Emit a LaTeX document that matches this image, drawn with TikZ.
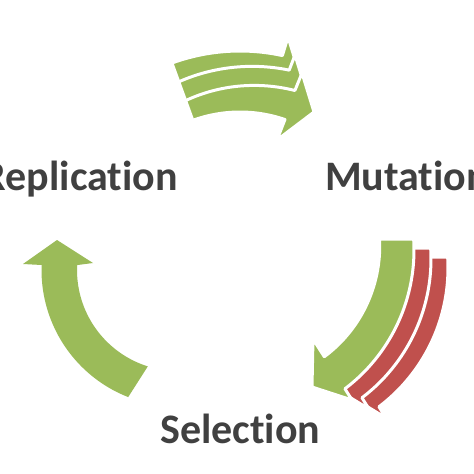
\documentclass[tikz,border=0pt]{standalone}
\usepackage{fontspec}
\setmainfont{Carlito}[Ligatures={NoCommon,NoContextual}]
\definecolor{agreen}{HTML}{9BBB59}
\definecolor{ared}{HTML}{C0504D}
\definecolor{txtgray}{HTML}{404040}
\newcommand\myRpath{(380,239) -- (413,239)
  -- plot[domain=-3.6:52.9,samples=40,variable=\t] ({240+174*cos(\t)},{250+174*sin(\t)})
  -- (352,400) -- (312,387) -- (313,339) -- (324.3,356.7)
  -- plot[domain=51.7:-4.5,samples=40,variable=\t] ({240+(140-4*(\t+4.5)/56.2)*cos(\t)},{250+(140-4*(\t+4.5)/56.2)*sin(\t)})
  -- cycle}
\newcommand\myRedpath{(380,239) -- (413,239)
  -- plot[domain=-3.6:52.9,samples=40,variable=\t] ({240+174*cos(\t)},{250+174*sin(\t)})
  -- (352,400) -- (329,386) -- (313,339) -- (324.3,356.7)
  -- plot[domain=51.7:-4.5,samples=40,variable=\t] ({240+(140-4*(\t+4.5)/56.2)*cos(\t)},{250+(140-4*(\t+4.5)/56.2)*sin(\t)})
  -- cycle}
\begin{document}
\begin{tikzpicture}[x=1pt,y=-1pt,
  band/.style={draw=white,line width=3pt,line join=round},
  lbl/.style={font=\bfseries\fontsize{42}{42}\selectfont, text=txtgray, inner sep=0pt}]
\useasboundingbox (0,0) rectangle (474,474);
\clip (0,0) rectangle (474,474);
\fill[white] (0,0) rectangle (474,474);

% top arrow (three stacked copies)
\path[band,fill=agreen] plot[domain=-110:-77.7,samples=30,variable=\t] ({240+199*cos(\t)},{250+199*sin(\t)})
  -- (288,37) -- (300,76)
  -- plot[domain=-73:-110,samples=30,variable=\t] ({240+172*cos(\t)},{250+172*sin(\t)}) -- cycle;
\path[band,fill=agreen] plot[domain=-110:-74.7,samples=30,variable=\t] ({240+(179+7.5*(\t+110)/35.3)*cos(\t)},{250+(179+7.5*(\t+110)/35.3)*sin(\t)})
  -- (295,55) -- (307,94)
  -- plot[domain=-70:-110,samples=30,variable=\t] ({240+150*cos(\t)},{250+150*sin(\t)}) -- cycle;
\path[band,fill=agreen] plot[domain=-110:-71,samples=30,variable=\t] ({240+(159+9.7*(\t+110)/39)*cos(\t)},{250+(159+9.7*(\t+110)/39)*sin(\t)})
  -- (302,73) -- (314,112) -- (277,140)
  -- plot[domain=-71:-110,samples=30,variable=\t] ({240+138*cos(\t)},{250+138*sin(\t)}) -- cycle;

% right arrow: two red copies behind the green one
\begin{scope}[shift={(34,18)}]
  \path[band,fill=ared] \myRedpath;
\end{scope}
\begin{scope}[shift={(17,9)}]
  \path[band,fill=ared] \myRedpath;
\end{scope}
\path[band,fill=agreen] \myRpath;

% left arrow
\fill[agreen] plot[domain=111.4:182.1,samples=40,variable=\t] ({178+136.5*cos(\t)},{270+136.5*sin(\t)})
  -- (23,264) -- (57,240) -- (93,263)
  -- plot[domain=182.8:107.4,samples=40,variable=\t] ({178+101*cos(\t)},{270+101*sin(\t)}) -- cycle;

% labels
\node[lbl, anchor=base east] (rep) at (178,190) {Replication};
\node[lbl, anchor=base west] (mut) at (325,190) {Mutation};
\node[lbl, anchor=base west] (sel) at (160,443) {Selection};
\end{tikzpicture}
\end{document}
